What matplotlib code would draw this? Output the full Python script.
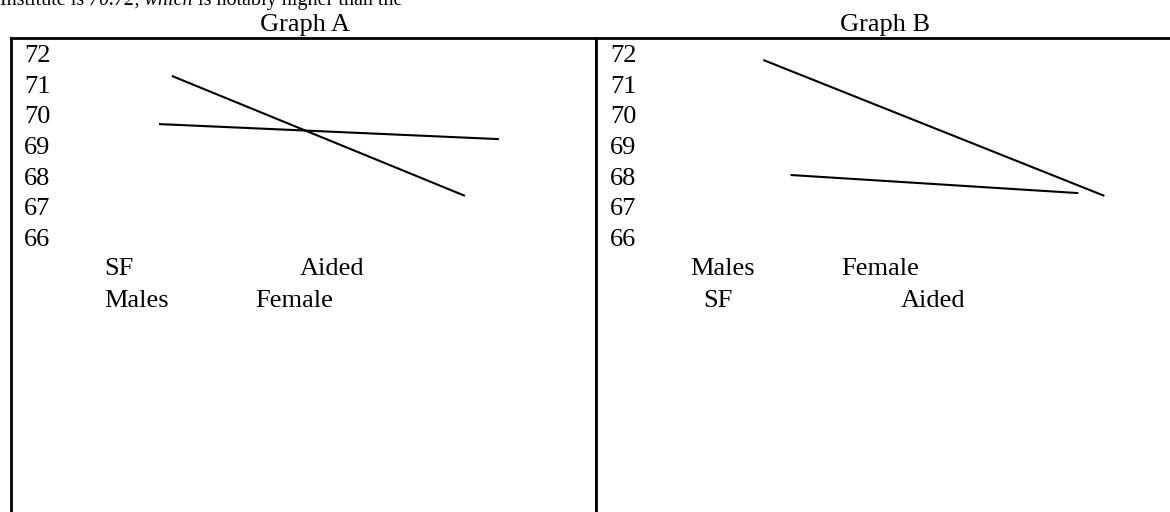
import matplotlib
matplotlib.use("Agg")
import matplotlib.pyplot as plt
from matplotlib.offsetbox import TextArea, HPacker, AnchoredOffsetbox

plt.rcParams['font.family'] = ['Liberation Serif', 'DejaVu Serif']

W, H = 1170, 512
fig = plt.figure(figsize=(W / 100, H / 100), dpi=100)

# ---- data ----
y_ticks = [72, 71, 70, 69, 68, 67, 66]
titles = ["Graph A", "Graph B"]

# Graph A
a_line1_x = [0.275, 0.776]
a_line1_y = [71.35, 67.44]
a_line2_x = [0.253, 0.834]
a_line2_y = [69.78, 69.29]
a_row1 = ["SF", "Aided"]
a_row1_x = [0.160, 0.494]
a_row2 = ["Males", "Female"]
a_row2_x = [0.160, 0.418]

# Graph B
b_line1_x = [0.289, 0.878]
b_line1_y = [71.87, 67.44]
b_line2_x = [0.336, 0.833]
b_line2_y = [68.12, 67.53]
b_row1 = ["Males", "Female"]
b_row1_x = [0.162, 0.423]
b_row2 = ["SF", "Aided"]
b_row2_x = [0.186, 0.527]

row_y = [65.05, 64.01]

FS = 19

# pixel geometry
top_px = 38
px_per_unit = 30.67
y72_px = 56
ymax = 72 + (y72_px - top_px) / px_per_unit
ymin = 72 - (H - y72_px) / px_per_unit


def make_ax(x0, x1, right_visible=True):
    ax = fig.add_axes([x0 / W, 0, (x1 - x0) / W, (H - top_px) / H])
    ax.set_xlim(0, 1)
    ax.set_ylim(ymin, ymax)
    ax.set_xticks([])
    ax.set_yticks([])
    for s in ['left', 'top', 'right']:
        ax.spines[s].set_linewidth(2.0)
        ax.spines[s].set_color('black')
    ax.spines['bottom'].set_visible(False)
    ax.spines['right'].set_visible(right_visible)
    return ax


axA = make_ax(11, 596)
axB = make_ax(596, 1175, right_visible=False)

panels = [
    (axA, 0.022, (a_line1_x, a_line1_y), (a_line2_x, a_line2_y),
     (a_row1, a_row1_x), (a_row2, a_row2_x)),
    (axB, 0.0245, (b_line1_x, b_line1_y), (b_line2_x, b_line2_y),
     (b_row1, b_row1_x), (b_row2, b_row2_x)),
]

for ax, tx, l1, l2, r1, r2 in panels:
    for v in y_ticks:
        ax.text(tx, v, str(v), fontsize=FS, va='center', ha='left')
    ax.plot(l1[0], l1[1], color='black', lw=1.5, solid_capstyle='butt')
    ax.plot(l2[0], l2[1], color='black', lw=1.5, solid_capstyle='butt')
    for (labels, xs), yv in zip([r1, r2], row_y):
        for lab, xx in zip(labels, xs):
            ax.text(xx, yv, lab, fontsize=FS, va='center', ha='left')

# titles
fig.text(305 / W, 1 - 31 / H, titles[0], fontsize=FS, ha='center', va='baseline')
fig.text(885 / W, 1 - 31 / H, titles[1], fontsize=FS, ha='center', va='baseline')

# cut-off line of running text at top
TFS = 14.5
parts = [TextArea("Institute is ", textprops=dict(fontsize=TFS)),
         TextArea("70.72, which", textprops=dict(fontsize=TFS, style='italic')),
         TextArea(" is notably higher than the", textprops=dict(fontsize=TFS))]
pack = HPacker(children=parts, align="baseline", pad=0, sep=0)
ab = AnchoredOffsetbox(loc='lower left', child=pack, pad=0, borderpad=0,
                       frameon=False, bbox_to_anchor=(0, 1 - 10 / H),
                       bbox_transform=fig.transFigure)
fig.add_artist(ab)

fig.savefig("out.png", dpi=100)
